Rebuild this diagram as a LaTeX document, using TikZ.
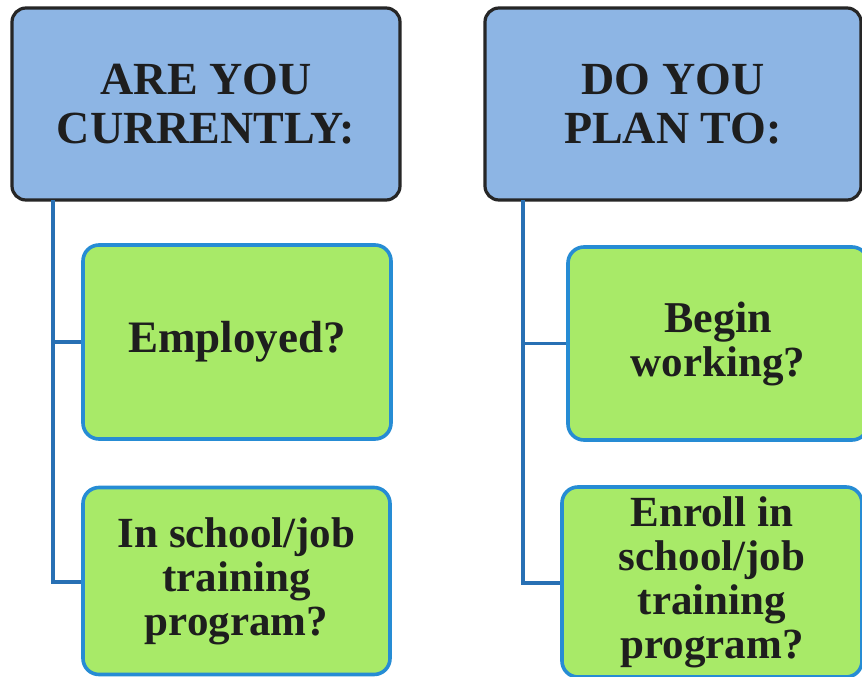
\documentclass[tikz,border=0pt]{standalone}
\usepackage{fontspec}
\setmainfont{Liberation Serif}
\definecolor{hdrfill}{RGB}{141,181,228}
\definecolor{grnfill}{RGB}{168,234,104}
\definecolor{grnline}{RGB}{38,140,212}
\definecolor{connline}{RGB}{40,112,180}
\definecolor{txt}{RGB}{30,30,30}
\tikzset{
  hdrbox/.style={draw=black!85, line width=3.2pt, fill=hdrfill, rounded corners=14pt,
    align=center, text=txt, inner sep=0pt,
    font=\fontsize{46}{49}\selectfont\bfseries},
  grnbox/.style={draw=grnline, line width=3.6pt, fill=grnfill, rounded corners=16pt,
    align=center, text=txt, inner sep=0pt,
    font=\fontsize{43}{44}\selectfont\bfseries},
  conn/.style={draw=connline, line width=3.2pt}
}
\begin{document}
\begin{tikzpicture}[x=1pt,y=-1pt]
\useasboundingbox (0,0) rectangle (862,677);
\fill[white] (0,0) rectangle (862,677);
\coordinate (lTop) at (53,200);
\coordinate (rTop) at (523,200);
% nodes
\node[hdrbox, minimum width=388pt, minimum height=192pt] (hL) at (206,104) {ARE YOU\\CURRENTLY:};
\node[hdrbox, minimum width=376pt, minimum height=192pt] (hR) at (673,104) {DO YOU\\PLAN TO:};
\draw[conn] (lTop) |- (236,582) coordinate (l2);
\draw[conn] (rTop) |- (712,583) coordinate (r2);
\node[grnbox, minimum width=308pt, minimum height=194pt] (e1) at (237,342) {\fontsize{45}{44}\selectfont Employed?};
\node[grnbox, minimum width=307pt, minimum height=187pt] (e2) at (236.5,581) {In school/job\\training\\program?};
\node[grnbox, minimum width=300pt, minimum height=193pt] (b1) at (718,343.5) {\fontsize{44}{50}\selectfont Begin\\working?};
\node[grnbox, minimum width=300pt, minimum height=190pt] (b2) at (712,582) {Enroll in\\school/job\\training\\program?};
\draw[conn] (e1.west) -- (e1.west -| lTop);
\draw[conn] (b1.west) -- (b1.west -| rTop);
\end{tikzpicture}
\end{document}
